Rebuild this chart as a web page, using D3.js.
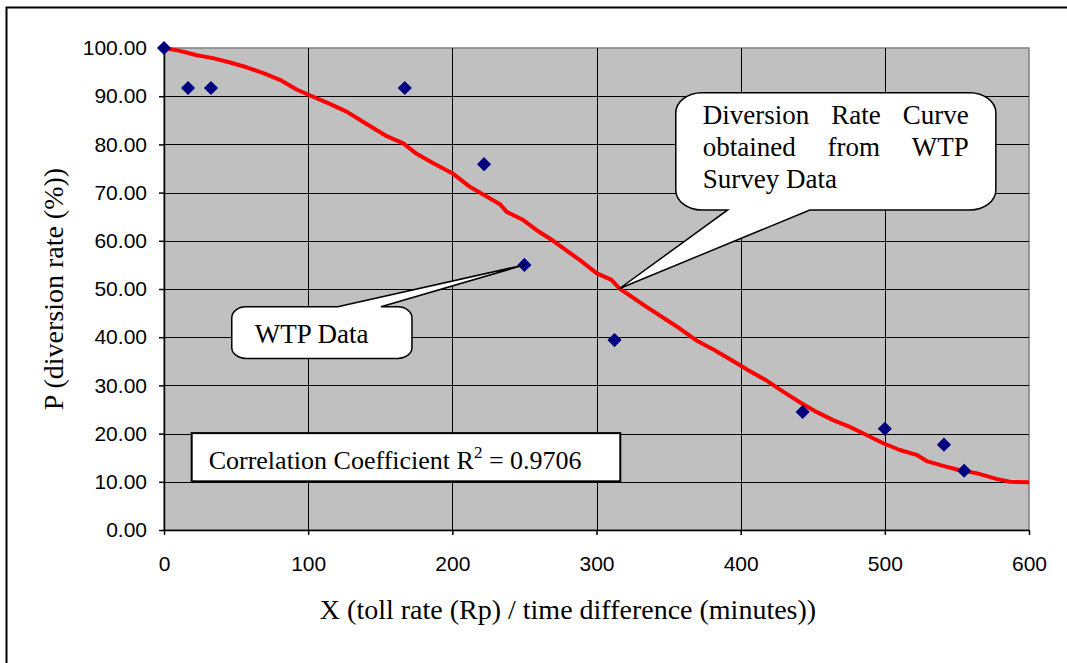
<!DOCTYPE html>
<html>
<head>
<meta charset="utf-8">
<script src="https://cdn.jsdelivr.net/npm/d3@7"></script>
<style>
    body { margin: 0; background: #fff; }
    svg { display: block; }
</style>
</head>
<body>
<svg id="chart" width="1067" height="663"></svg>
<script>
// axis ticks
var xTicks = [0, 100, 200, 300, 400, 500, 600];
var yTicks = [0, 10, 20, 30, 40, 50, 60, 70, 80, 90, 100];

// WTP survey points (X, P%)
var wtpX = [0, 16.7, 32.6, 167, 222, 250, 312.5, 443, 500, 541, 555];
var wtpY = [100, 91.7, 91.7, 91.7, 75.9, 55.0, 39.4, 24.5, 21.0, 17.7, 12.3];

// fitted diversion rate curve
var curveX = [0, 11, 22.7, 34, 45.8, 57.3, 68.9, 80.4, 92, 101, 115, 126.7, 138, 154.5, 166, 175,
    186.8, 200.6, 212.2, 223.8, 233, 237.7, 249.2, 258.5, 270, 280, 288.5, 300, 310.4, 316, 334.7,
    357.8, 370, 382, 395, 405, 418, 430, 441.6, 452.6, 464.1, 475.7, 487.3, 498.9, 510.4, 522,
    529, 540.5, 552, 563.5, 577.4, 586.7, 600];
var curveY = [100, 99.4, 98.5, 97.9, 97.0, 96.0, 94.8, 93.4, 91.4, 90.2, 88.4, 86.8, 84.7, 81.7, 80.2, 78.1,
    76.1, 73.9, 71.2, 69.2, 67.6, 66.0, 64.3, 62.2, 60.0, 57.8, 56.0, 53.3, 51.9, 50.1, 46.3,
    41.8, 39.2, 37.3, 35.0, 33.2, 31.0, 28.6, 26.4, 24.5, 22.8, 21.4, 19.7, 18.0, 16.6, 15.6,
    14.3, 13.3, 12.4, 11.8, 10.6, 10.0, 9.9];

// texts
var xTitle = 'X (toll rate (Rp) / time difference (minutes))';
var yTitle = 'P (diversion rate (%))';
var curveNote = [['Diversion', 'Rate', 'Curve'], ['obtained', 'from', 'WTP'], ['Survey Data']];
var pointNote = 'WTP Data';
var corrText = ['Correlation Coefficient R', '2', ' = 0.9706'];

var SERIF = "'Liberation Serif', 'Times New Roman', serif";
var SANS = "'Liberation Sans', Arial, sans-serif";

var svg = d3.select('#chart');
var margin = {top: 48, right: 38, bottom: 133, left: 164};
var W = 1067, H = 663;

var x = d3.scaleLinear().domain([0, 600]).range([margin.left, W - margin.right]);
var y = d3.scaleLinear().domain([0, 100]).range([H - margin.bottom, margin.top]);

// outer frame (only left/top edges are inside the picture)
svg.append('rect')
    .attr('x', 6.5).attr('y', 7.5)
    .attr('width', W + 20).attr('height', H + 20)
    .attr('fill', 'none').attr('stroke', '#000').attr('stroke-width', 2);

// plot area
svg.append('rect')
    .attr('x', x(0)).attr('y', y(100))
    .attr('width', x(600) - x(0)).attr('height', y(0) - y(100))
    .attr('fill', '#c0c0c0').attr('stroke', '#808080').attr('stroke-width', 1.5);

// grid lines
svg.append('g').selectAll('line')
    .data(xTicks.filter(function (d) { return d > 0 && d < 600; }))
    .enter().append('line')
    .attr('x1', function (d) { return Math.round(x(d)) + 0.5; })
    .attr('x2', function (d) { return Math.round(x(d)) + 0.5; })
    .attr('y1', y(100)).attr('y2', y(0))
    .attr('stroke', '#000').attr('stroke-width', 1);
svg.append('g').selectAll('line')
    .data(yTicks.filter(function (d) { return d > 0 && d < 100; }))
    .enter().append('line')
    .attr('y1', function (d) { return Math.round(y(d)) + 0.5; })
    .attr('y2', function (d) { return Math.round(y(d)) + 0.5; })
    .attr('x1', x(0)).attr('x2', x(600))
    .attr('stroke', '#000').attr('stroke-width', 1);

// axes
var yAxis = svg.append('g')
    .attr('transform', 'translate(' + x(0) + ',0)')
    .call(d3.axisLeft(y).tickValues(yTicks).tickFormat(d3.format('.2f')).tickSize(5).tickSizeOuter(0).tickPadding(12));
var xAxis = svg.append('g')
    .attr('transform', 'translate(0,' + y(0) + ')')
    .call(d3.axisBottom(x).tickValues(xTicks).tickFormat(d3.format('d')).tickSize(5).tickSizeOuter(0));
[xAxis, yAxis].forEach(function (a) {
    a.select('.domain').attr('stroke', '#000').attr('stroke-width', 1.5);
    a.selectAll('.tick line').attr('stroke', '#000').attr('stroke-width', 1.5);
    a.selectAll('.tick text').attr('font-family', SANS).attr('font-size', 21).attr('fill', '#000');
});
xAxis.selectAll('.tick text').attr('y', 26).attr('dy', '0.71em');

// axis titles
svg.append('text')
    .attr('x', 568).attr('y', 619)
    .attr('text-anchor', 'middle')
    .attr('font-family', SERIF).attr('font-size', 28)
    .text(xTitle);
svg.append('text')
    .attr('transform', 'translate(63,' + (y(0) + y(100)) / 2 + ') rotate(-90)')
    .attr('text-anchor', 'middle')
    .attr('font-family', SERIF).attr('font-size', 28)
    .text(yTitle);

// fitted curve
var line = d3.line()
    .x(function (d) { return x(d[0]); })
    .y(function (d) { return y(d[1]); });
svg.append('path')
    .datum(d3.zip(curveX, curveY))
    .attr('d', line)
    .attr('fill', 'none').attr('stroke', '#ff0000')
    .attr('stroke-width', 4).attr('stroke-linejoin', 'round');

// survey points
svg.append('g').selectAll('path')
    .data(d3.zip(wtpX, wtpY))
    .enter().append('path')
    .attr('d', d3.symbol(d3.symbolSquare, 100))
    .attr('transform', function (d) { return 'translate(' + x(d[0]) + ',' + y(d[1]) + ') rotate(45)'; })
    .attr('fill', '#000080');

// callout shape: rounded box with a pointer tail on top or bottom edge
var callout = function (x0, y0, x1, y1, rx, ry, tailA, tailB, tip, onTop) {
    var p = 'M' + (x0 + rx) + ',' + y0;
    if (onTop) p += 'H' + tailA + 'L' + tip[0] + ',' + tip[1] + 'L' + tailB + ',' + y0;
    p += 'H' + (x1 - rx) + 'A' + rx + ',' + ry + ' 0 0 1 ' + x1 + ',' + (y0 + ry);
    p += 'V' + (y1 - ry) + 'A' + rx + ',' + ry + ' 0 0 1 ' + (x1 - rx) + ',' + y1;
    if (!onTop) p += 'H' + tailB + 'L' + tip[0] + ',' + tip[1] + 'L' + tailA + ',' + y1;
    p += 'H' + (x0 + rx) + 'A' + rx + ',' + ry + ' 0 0 1 ' + x0 + ',' + (y1 - ry);
    p += 'V' + (y0 + ry) + 'A' + rx + ',' + ry + ' 0 0 1 ' + (x0 + rx) + ',' + y0 + 'Z';
    return p;
};

// curve callout
var b1 = {x0: x(355), x1: x(577), y0: y(90.7), y1: y(66.4)};
svg.append('path')
    .attr('d', callout(b1.x0, b1.y0, b1.x1, b1.y1, 26, 20, x(391), x(448), [x(316), y(50.1)], false))
    .attr('fill', '#fff').attr('stroke', '#000').attr('stroke-width', 1.5);

// justified text lines
var noteG = svg.append('g').attr('font-family', SERIF).attr('font-size', 27);
var left = b1.x0 + 27, right = b1.x1 - 27;
curveNote.forEach(function (words, i) {
    var yb = b1.y0 + 31 + i * 32;
    var nodes = words.map(function (w) { return noteG.append('text').attr('y', yb).text(w); });
    if (words.length === 1) { nodes[0].attr('x', left); return; }
    var widths = nodes.map(function (n) { return n.node().getComputedTextLength(); });
    var gap = (right - left - d3.sum(widths)) / (words.length - 1);
    var cx = left;
    nodes.forEach(function (n, k) { n.attr('x', cx); cx += widths[k] + gap; });
});

// point callout
var b2 = {x0: x(47), x1: x(172), y0: y(46.3), y1: y(35.6)};
svg.append('path')
    .attr('d', callout(b2.x0, b2.y0, b2.x1, b2.y1, 14, 11, x(120.5), x(150.5), [x(250), y(55)], true))
    .attr('fill', '#fff').attr('stroke', '#000').attr('stroke-width', 1.5);
svg.append('text')
    .attr('x', b2.x0 + 23).attr('y', b2.y0 + 36)
    .attr('font-family', SERIF).attr('font-size', 27)
    .text(pointNote);

// correlation box
var b3 = {x0: x(19.2), x1: x(316.5), y0: y(20.1), y1: y(10.1)};
svg.append('rect')
    .attr('x', b3.x0).attr('y', b3.y0)
    .attr('width', b3.x1 - b3.x0).attr('height', b3.y1 - b3.y0)
    .attr('fill', '#fff').attr('stroke', '#000').attr('stroke-width', 2);
var ct = svg.append('text')
    .attr('x', b3.x0 + 17).attr('y', b3.y0 + 36)
    .attr('font-family', SERIF).attr('font-size', 26);
ct.append('tspan').text(corrText[0]);
ct.append('tspan').attr('dy', -11).attr('font-size', 17).text(corrText[1]);
ct.append('tspan').attr('dy', 11).text(corrText[2]);
</script>
</body>
</html>
